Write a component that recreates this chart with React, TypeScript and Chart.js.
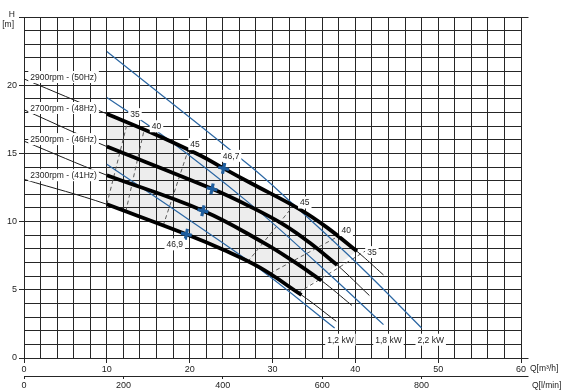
import React, { useEffect, useRef } from 'react';
import { Chart, registerables } from 'chart.js';

Chart.register(...registerables);

// ---------- data (Q in m³/h, H in m) ----------
const speedLabels = ['2900rpm - (50Hz)', '2700rpm - (48Hz)', '2500rpm - (46Hz)', '2300rpm - (41Hz)'];

const flowA = [0, 10, 15.2, 21.3, 24.1, 27.3, 33.3, 36.6, 40.2, 43.4];
const headA = [20.46, 17.9, 16.57, 14.85, 13.9, 12.85, 10.9, 9.56, 7.82, 6.09];
const flowB = [0, 10, 22.7, 27.3, 31.3, 34.5, 37.8, 41.7];
const headB = [18.2, 15.5, 12.4, 11.1, 9.8, 8.45, 6.82, 4.58];
const flowC = [0, 10, 21.6, 28.9, 32.5, 35.9, 39.6];
const headC = [15.9, 13.4, 10.8, 8.46, 7.1, 5.68, 3.85];
const flowD = [0, 10, 19.6, 24.0, 28.5, 33.5, 37.7];
const headD = [13.1, 11.27, 9.07, 7.95, 6.62, 4.62, 2.69];

const bepFlow = [24.1, 22.7, 21.6, 19.6];
const bepHead = [13.9, 12.4, 10.8, 9.07];
const bepLabels = ['46,7', '46,9'];

const powerLabels = ['1,2 kW', '1,8 kW', '2,2 kW'];
const p12Flow = [10, 20, 28.5, 37.5];
const p12Head = [14.2, 10.1, 6.5, 2.2];
const p18Flow = [10, 17, 27.3, 35.3, 43.4];
const p18Head = [19.1, 16.2, 11.3, 7.0, 2.45];
const p22Flow = [10, 27.3, 32.5, 40.6, 48.0];
const p22Head = [22.47, 14.07, 11.27, 6.71, 2.2];

const effLabels = ['35', '40', '45'];
const eff35LFlow = [10, 12.5];
const eff35LHead = [11.27, 17.3];
const eff40LFlow = [12.3, 14.5];
const eff40LHead = [10.75, 16.72];
const eff45LFlow = [16.8, 19.8];
const eff45LHead = [9.7, 15.2];
const eff45RFlow = [27.0, 32.5];
const eff45RHead = [7.05, 11.15];
const eff40RFlow = [29.7, 38.0];
const eff40RHead = [6.2, 8.94];
const eff35RFlow = [33.1, 41.2];
const eff35RHead = [4.78, 7.84];

const xTickStep = 2;
const xLabelStep = 10;
const yTickStep = 1;
const yLabelStep = 5;
const yLabelMax = 20;
const lminTickStep = 200;
const lminLabelMax = 800;

// ---------- annotation anchors (data units) ----------
const speedLabelPos = { q: 8.8, h: [20.6, 18.33, 16.05, 13.4] };
const effLeftPos = [[13.4, 17.88], [16.0, 16.99], [20.65, 15.68]];
const effRightPos = [[42.0, 7.76], [38.9, 9.38], [33.9, 11.4]];
const bepLabelPos = [[25.0, 14.82], [18.2, 8.33]];
const powerLabelPos = [[38.2, 1.34], [44.0, 1.34], [49.1, 1.34]];

const FONT = "'Liberation Sans', Arial, sans-serif";
const INK = '#1c1c1c';
const GRID = '#262626';
const BLUE = '#2a66a3';
const STAR = '#1f5e9e';
const NONE = 'rgba(0,0,0,0)';

const toXY = (xs: number[], ys: number[]) => xs.map((x, i) => ({ x, y: ys[i] }));

function drawLabel(ctx: CanvasRenderingContext2D, text: string, px: number, py: number, align: string, box: boolean) {
  ctx.font = `8.5px ${FONT}`;
  const w = ctx.measureText(text).width;
  const left = align === 'center' ? px - w / 2 : align === 'right' ? px - w : px;
  if (box) {
    ctx.fillStyle = '#ffffff';
    ctx.fillRect(left - 2, py - 6, w + 4, 12);
  }
  ctx.fillStyle = INK;
  ctx.textAlign = 'left';
  ctx.textBaseline = 'middle';
  ctx.fillText(text, left, py + 0.5);
}

const annotPlugin = {
  id: 'annot',
  afterDatasetsDraw(chart: any) {
    const { ctx, scales, chartArea } = chart;
    const x = scales.x;
    const y = scales.y;
    const px = (q: number) => x.getPixelForValue(q);
    const py = (h: number) => y.getPixelForValue(h);
    ctx.save();
    speedLabels.forEach((t, i) => drawLabel(ctx, t, px(speedLabelPos.q), py(speedLabelPos.h[i]), 'right', true));
    effLabels.forEach((t, i) => drawLabel(ctx, t, px(effLeftPos[i][0]), py(effLeftPos[i][1]), 'center', true));
    effLabels.forEach((t, i) => drawLabel(ctx, t, px(effRightPos[i][0]), py(effRightPos[i][1]), 'center', true));
    bepLabels.forEach((t, i) => drawLabel(ctx, t, px(bepLabelPos[i][0]), py(bepLabelPos[i][1]), 'center', true));
    powerLabels.forEach((t, i) => drawLabel(ctx, t, px(powerLabelPos[i][0]), py(powerLabelPos[i][1]), 'center', true));

    // axis captions
    const x2 = scales.x2;
    drawLabel(ctx, 'H', chartArea.left - 9, chartArea.top - 3, 'right', false);
    drawLabel(ctx, '[m]', chartArea.left - 10, chartArea.top + 7, 'right', false);
    drawLabel(ctx, 'Q[m³/h]', chartArea.right + 9, chartArea.bottom + 10, 'left', false);
    drawLabel(ctx, 'Q[l/min]', chartArea.right + 11, x2.top + 9, 'left', false);

    // small axis-line extensions to the right
    ctx.strokeStyle = GRID;
    ctx.lineWidth = 1;
    ctx.beginPath();
    const r = Math.round(chartArea.right) + 0.5;
    [chartArea.top, chartArea.bottom, x2.top].forEach((yy: number) => {
      const yv = Math.round(yy) + 0.5;
      ctx.moveTo(r - 1, yv);
      ctx.lineTo(r + 7, yv);
    });
    ctx.stroke();
    ctx.restore();
  },
};

export default function App() {
  const ref = useRef<HTMLCanvasElement>(null);
  useEffect(() => {
    if (!ref.current) return;
    const curves = [
      [flowA, headA],
      [flowB, headB],
      [flowC, headC],
      [flowD, headD],
    ];
    const datasets: any[] = [];
    const nA = flowA.length;
    // shaded operating region between top and bottom curves
    datasets.push({
      data: toXY(flowA.slice(1, nA - 1), headA.slice(1, nA - 1)),
      borderWidth: 0,
      borderColor: NONE,
      backgroundColor: 'rgba(0,0,0,0.07)',
      fill: '+1',
      tension: 0.4,
      order: 10,
    });
    datasets.push({
      data: toXY([...flowD.slice(1, 5), eff35RFlow[0], flowA[nA - 2]], [...headD.slice(1, 5), eff35RHead[0], headA[nA - 2]]),
      borderWidth: 0,
      borderColor: NONE,
      fill: false,
      tension: 0,
      order: 11,
    });
    // efficiency dashed lines
    [
      [eff35LFlow, eff35LHead],
      [eff40LFlow, eff40LHead],
      [eff45LFlow, eff45LHead],
      [eff45RFlow, eff45RHead],
      [eff40RFlow, eff40RHead],
      [eff35RFlow, eff35RHead],
    ].forEach(([f, h]) =>
      datasets.push({ data: toXY(f, h), borderColor: '#5a5a5a', borderWidth: 1, borderDash: [4, 3], fill: false, tension: 0, order: 5 })
    );
    // power lines
    [
      [p12Flow, p12Head],
      [p18Flow, p18Head],
      [p22Flow, p22Head],
    ].forEach(([f, h]) =>
      datasets.push({ data: toXY(f, h), borderColor: BLUE, borderWidth: 1.2, fill: false, tension: 0.4, order: 4 })
    );
    // thin full curves
    curves.forEach(([f, h]) =>
      datasets.push({ data: toXY(f, h), borderColor: INK, borderWidth: 1, fill: false, tension: 0.4, order: 3 })
    );
    // thick operating range
    curves.forEach(([f, h]) =>
      datasets.push({
        data: toXY(f.slice(1, f.length - 1), h.slice(1, h.length - 1)),
        borderColor: '#000',
        borderWidth: 3.8,
        fill: false,
        tension: 0.4,
        order: 2,
      })
    );
    // best efficiency points
    datasets.push({
      data: toXY(bepFlow, bepHead),
      showLine: false,
      pointStyle: 'cross',
      pointRadius: 5.5,
      pointBorderWidth: 3.2,
      pointBorderColor: STAR,
      pointBackgroundColor: STAR,
      pointRotation: 12,
      order: 1,
    });

    const tickFont = { family: FONT, size: 9 };
    const chart = new Chart(ref.current, {
      type: 'line',
      data: { datasets },
      plugins: [annotPlugin],
      options: {
        responsive: false,
        animation: false,
        devicePixelRatio: 1,
        layout: { padding: { left: 0, right: 46, top: 17, bottom: 0 } },
        plugins: { legend: { display: false }, tooltip: { enabled: false } },
        elements: { point: { radius: 0 }, line: { borderCapStyle: 'butt' } },
        scales: {
          x: {
            type: 'linear',
            position: 'bottom',
            weight: 0,
            min: 0,
            max: 60,
            ticks: {
              stepSize: xTickStep,
              autoSkip: false,
              maxRotation: 0,
              padding: 1,
              color: INK,
              font: tickFont,
              callback: (v: any) => (v % xLabelStep === 0 ? String(v) : ''),
            },
            grid: {
              color: GRID,
              lineWidth: 1,
              tickLength: 5,
              tickColor: (c: any) => (c.tick && c.tick.value % xLabelStep === 0 ? GRID : NONE),
            },
            border: { display: true, color: GRID },
            afterFit: (s: any) => {
              s.height = 18;
            },
          },
          x2: {
            type: 'linear',
            position: 'bottom',
            weight: 1,
            min: 0,
            max: 1000,
            ticks: {
              stepSize: lminTickStep,
              autoSkip: false,
              maxRotation: 0,
              padding: 1,
              color: INK,
              font: tickFont,
              callback: (v: any) => (v <= lminLabelMax ? String(v) : ''),
            },
            grid: {
              drawOnChartArea: false,
              color: GRID,
              tickLength: 3,
              tickColor: (c: any) => (c.tick && c.tick.value <= lminLabelMax ? GRID : NONE),
            },
            border: { display: true, color: GRID },
            afterFit: (s: any) => {
              s.height = 16;
            },
          },
          y: {
            type: 'linear',
            position: 'left',
            min: 0,
            max: 25,
            ticks: {
              stepSize: yTickStep,
              autoSkip: false,
              padding: 2,
              color: INK,
              font: tickFont,
              callback: (v: any) => (v % yLabelStep === 0 && v <= yLabelMax ? String(v) : ''),
            },
            grid: {
              color: GRID,
              lineWidth: 1,
              tickLength: 5,
              tickColor: (c: any) => (c.tick && c.tick.value % yLabelStep === 0 ? GRID : NONE),
            },
            border: { display: true, color: GRID },
            afterFit: (s: any) => {
              s.width = 24;
            },
          },
        },
      },
    } as any);
    return () => chart.destroy();
  }, []);

  return (
    <div style={{ position: 'fixed', left: 0, top: 0, width: 567, height: 392, background: '#fff' }}>
      <canvas ref={ref} width={567} height={392} style={{ display: 'block', width: 567, height: 392 }} />
    </div>
  );
}
